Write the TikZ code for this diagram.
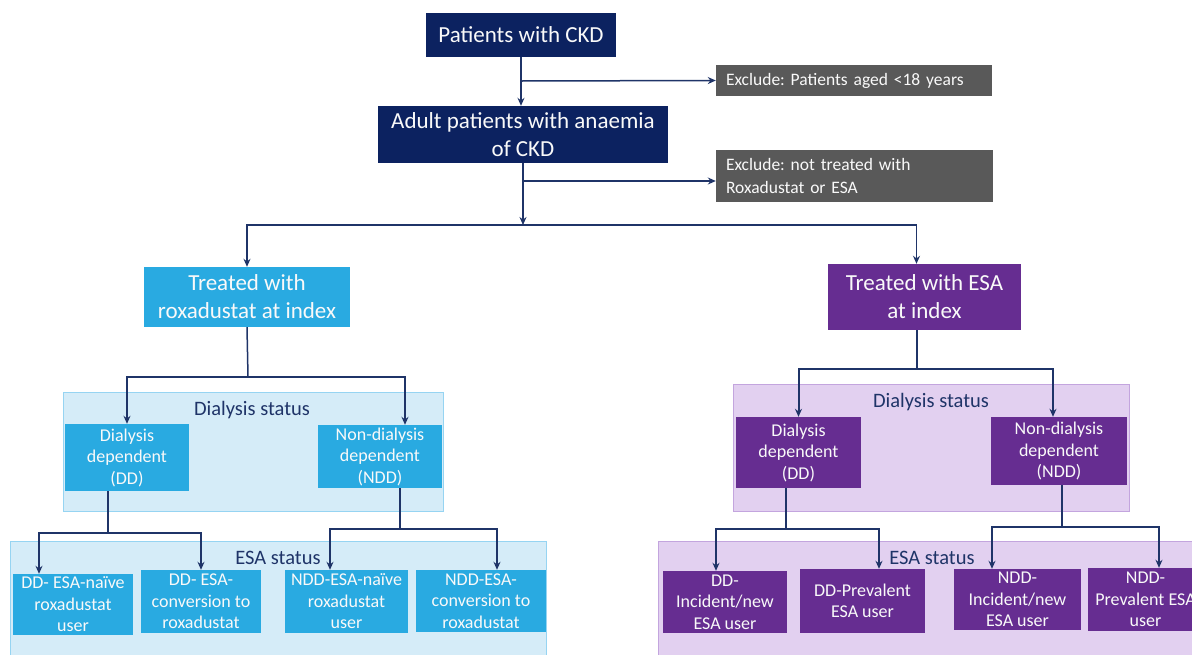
\documentclass[tikz,border=0pt]{standalone}
\usepackage{fontspec}
\setmainfont{Carlito}
\frenchspacing
\usetikzlibrary{arrows.meta}
\definecolor{ckdnavy}{RGB}{12,34,96}
\definecolor{linenavy}{RGB}{31,52,104}
\definecolor{exgrey}{RGB}{89,89,89}
\definecolor{roxcyan}{RGB}{41,170,225}
\definecolor{esapurple}{RGB}{102,45,145}
\definecolor{roxlight}{RGB}{213,236,248}
\definecolor{roxedge}{RGB}{150,212,242}
\definecolor{esalight}{RGB}{226,208,240}
\definecolor{esaedge}{RGB}{195,165,222}
\begin{document}
\begin{tikzpicture}[x=1pt, y=-1pt,
  box/.style={rectangle, inner sep=0pt, align=center, text=white!95!gray},
  ckdbox/.style={box, fill=ckdnavy, font=\fontsize{23}{28}\selectfont},
  exclbox/.style={rectangle, inner xsep=10pt, inner ysep=0pt, align=left, fill=exgrey, text=white!95!gray, font=\fontsize{17.5}{23}\selectfont},
  treatbox/.style={box, font=\fontsize{23}{28}\selectfont},
  smallbox/.style={box, font=\fontsize{18}{21.5}\selectfont},
  groupbox/.style={rectangle, inner sep=0pt, line width=1pt},
  grouplabel/.style={text=linenavy, font=\fontsize{20.5}{24}\selectfont},
  arrow/.style={-{Stealth[length=8pt,width=7pt]}, draw=linenavy, line width=1.5pt},
  link/.style={draw=linenavy, line width=1.5pt},
  thickarrow/.style={arrow, line width=2pt},
  thicklink/.style={link, line width=2pt}]
\useasboundingbox (0,0) rectangle (1192,654);

% group backgrounds
\node[groupbox, fill=roxlight, draw=roxedge, minimum width=380pt, minimum height=119pt] (rdial) at (253,451.5) {};
\node[groupbox, fill=roxlight, draw=roxedge, minimum width=536pt, minimum height=159pt] (resa) at (278,620.5) {};
\node[groupbox, fill=esalight, draw=esaedge, minimum width=396pt, minimum height=127pt] (pdial) at (931,447.5) {};
\node[groupbox, fill=esalight, draw=esaedge, minimum width=592pt, minimum height=159pt] (pesa) at (954,620.5) {};
\node[grouplabel] (rdiallabel) at (252,410) {Dialysis status};
\node[grouplabel] (resalabel) at (278,558) {ESA status};
\node[grouplabel] (pdiallabel) at (931,402) {Dialysis status};
\node[grouplabel] (pesalabel) at (932,558) {ESA status};

% top of the flow
\node[ckdbox, minimum width=190pt, minimum height=44pt] (ckd) at (521,35) {Patients with CKD};
\node[ckdbox, minimum width=290pt, minimum height=57pt] (adult) at (523,134.5) {Adult patients with anaemia\\of CKD};
\node[exclbox, text width=256pt, minimum height=31pt] (excl1) at (854,80.5) {Exclude: Patients aged <18 years};
\node[exclbox, text width=257pt, minimum height=52pt] (excl2) at (854.5,176) {Exclude: not treated with\\Roxadustat or ESA};

% treatment at index
\node[treatbox, fill=roxcyan, minimum width=206pt, minimum height=60pt] (roxa) at (247,297) {Treated with\\roxadustat at index};
\node[treatbox, fill=esapurple, minimum width=193pt, minimum height=66pt] (esa) at (924.5,297) {Treated with ESA\\at index};

% roxadustat branch
\node[smallbox, fill=roxcyan, minimum width=124pt, minimum height=67pt] (rdd) at (127,457.5) {Dialysis\\dependent\\(DD)};
\node[smallbox, fill=roxcyan, minimum width=124pt, minimum height=63pt] (rndd) at (380,456.5) {Non-dialysis\\dependent\\(NDD)};
\node[smallbox, fill=roxcyan, minimum width=120pt, minimum height=61pt] (r1) at (73,604.5) {DD- ESA-na\"ive\\roxadustat\\user};
\node[smallbox, fill=roxcyan, minimum width=120pt, minimum height=63pt] (r2) at (201,601.5) {DD- ESA-\\conversion to\\roxadustat};
\node[smallbox, fill=roxcyan, minimum width=123pt, minimum height=63pt] (r3) at (346.5,601.5) {NDD-ESA-na\"ive\\roxadustat\\user};
\node[smallbox, fill=roxcyan, minimum width=130pt, minimum height=62pt] (r4) at (481,601) {NDD-ESA-\\conversion to\\roxadustat};

% ESA branch
\node[smallbox, fill=esapurple, minimum width=125pt, minimum height=71pt] (pdd) at (798.5,452.5) {Dialysis\\dependent\\(DD)};
\node[smallbox, fill=esapurple, minimum width=136pt, minimum height=68pt] (pndd) at (1059,451) {Non-dialysis\\dependent\\(NDD)};
\node[smallbox, fill=esapurple, minimum width=124pt, minimum height=62pt] (p1) at (725,602) {DD-\\Incident/new\\ESA user};
\node[smallbox, fill=esapurple, minimum width=125pt, minimum height=64pt] (p2) at (862.5,601) {DD-Prevalent\\ESA user};
\node[smallbox, fill=esapurple, minimum width=127pt, minimum height=61pt] (p3) at (1017.5,599.5) {NDD-\\Incident/new\\ESA user};
\node[smallbox, fill=esapurple, minimum width=115pt, minimum height=63pt] (p4) at (1145.5,599.5) {NDD-\\Prevalent ESA\\user};

% junctions
\coordinate (j1) at (521,81);
\coordinate (j2) at (523,181);
\coordinate (jtop) at (523,225);
\coordinate (j3) at (248,377);
\coordinate (j4) at (108,533);
\coordinate (j5) at (400,529);
\coordinate (j6) at (917,369);
\coordinate (j7) at (786,529);
\coordinate (j8) at (1062,527);

% connectors
\draw[arrow] (ckd.south) -- (ckd.south |- adult.north);
\draw[arrow] (j1) -- (excl1.west);
\draw[arrow] (j2) -- (j2 -| excl2.west);
\draw[arrow] (adult.south) -- (jtop);
\draw[arrow] (jtop) -| (roxa.north);
\draw[arrow] (jtop) -| ([xshift=-8pt]esa.north);
\draw[link] (roxa.south) -- (j3);
\draw[thickarrow] (j3) -| (rdd.north);
\draw[thickarrow] (j3) -| ([xshift=25pt]rndd.north);
\draw[link] ([xshift=-19pt]rdd.south) -- (j4);
\draw[thickarrow] (j4) -| ([xshift=-34pt]r1.north);
\draw[thickarrow] (j4) -| (r2.north);
\draw[thicklink] ([xshift=20pt]rndd.south) -- (j5);
\draw[thickarrow] (j5) -| ([xshift=-16.5pt]r3.north);
\draw[thickarrow] (j5) -| ([xshift=16pt]r4.north);
\draw[link] ([xshift=-7.5pt]esa.south) -- (j6);
\draw[thickarrow] (j6) -| (pdd.north);
\draw[thickarrow] (j6) -| ([xshift=-6pt]pndd.north);
\draw[thicklink] ([xshift=-12.5pt]pdd.south) -- (j7);
\draw[thickarrow] (j7) -| ([xshift=-9pt]p1.north);
\draw[thickarrow] (j7) -| ([xshift=16.5pt]p2.north);
\draw[thicklink] ([xshift=3pt]pndd.south) -- (j8);
\draw[thickarrow] (j8) -| ([xshift=-25.5pt]p3.north);
\draw[thickarrow] (j8) -| ([xshift=13.5pt]p4.north);
\end{tikzpicture}
\end{document}
